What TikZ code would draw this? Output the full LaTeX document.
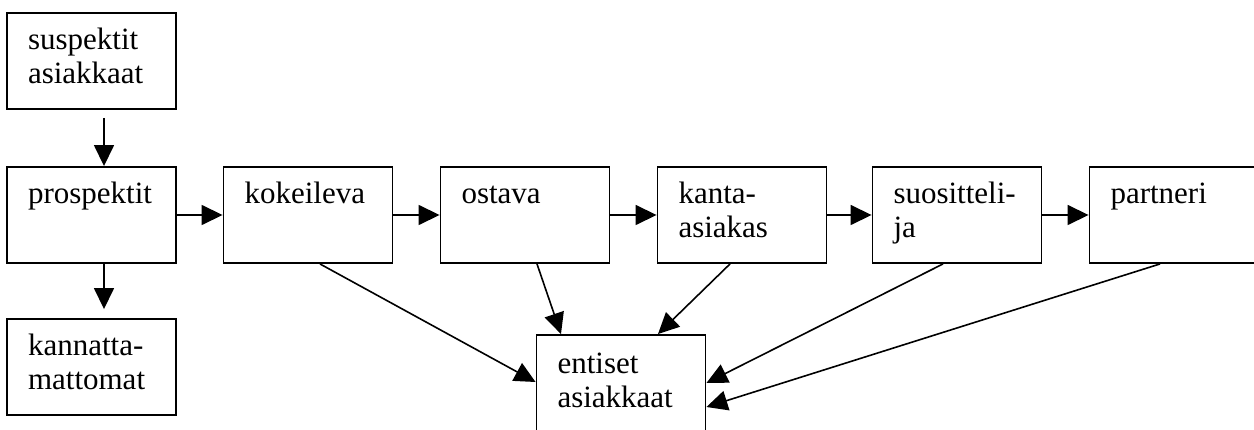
\documentclass[tikz,border=0pt]{standalone}
\usepackage{fontspec}
\setmainfont{Liberation Serif}
\usetikzlibrary{arrows.meta}
\newcommand{\bxt}[1]{\parbox[c][96pt][t]{169pt}{\leftskip=21pt\rightskip=0pt plus 1fil\parindent=0pt\parfillskip=0pt plus 1fil\vspace*{13pt}\leavevmode\strut#1}}
\begin{document}
\begin{tikzpicture}[x=1pt, y=-1pt,
  box/.style={draw, line width=1.9pt, inner sep=0pt, minimum width=169pt, minimum height=96pt,
    font=\fontsize{31pt}{34pt}\selectfont},
  arr/.style={line width=1.6pt, -{Triangle[length=21pt,width=20pt]}}]
\useasboundingbox (0,0) rectangle (1254,430);
\clip (0,0) rectangle (1254,430);
\node[box] (sus)   at (91.5,61)  {\bxt{suspektit\\asiakkaat}};
\node[box] (pros)  at (91.5,215) {\bxt{prospektit}};
\node[box] (kann)  at (91.5,367) {\bxt{kannatta-\\mattomat}};
\node[box] (kok)   at (308,215)  {\bxt{kokeileva}};
\node[box] (ost)   at (525,215)  {\bxt{ostava}};
\node[box] (kanta) at (742,215)  {\bxt{kanta-\\asiakas}};
\node[box] (suos)  at (957,215)  {\bxt{suositteli-\\ja}};
\node[box] (part)  at (1174,215) {\bxt{partneri}};
\node[box, minimum height=100pt] (ent) at (621,385) {\bxt{entiset\\asiakkaat}};
\draw[arr] ([xshift=12.5pt,yshift=-8pt]sus.south) -- ([xshift=12.5pt]pros.north);
\draw[arr] ([xshift=12.5pt]pros.south) -- ([xshift=12.5pt,yshift=9pt]kann.north);
\draw[arr] (pros.east) -- (kok.west);
\draw[arr] (kok.east) -- (ost.west);
\draw[arr] (ost.east) -- (kanta.west);
\draw[arr] (kanta.east) -- (suos.west);
\draw[arr] (suos.east) -- (part.west);
\draw[arr] ([xshift=12pt]kok.south) -- ([yshift=3pt]ent.west);
\draw[arr] ([xshift=12pt]ost.south) -- ([xshift=-60pt]ent.north);
\draw[arr] ([xshift=-12pt]kanta.south) -- ([xshift=37pt]ent.north);
\draw[arr] ([xshift=-14pt]suos.south) -- ([yshift=2pt]ent.east);
\draw[arr] ([xshift=-14pt]part.south) -- ([yshift=-22pt]ent.east);
\end{tikzpicture}
\end{document}
